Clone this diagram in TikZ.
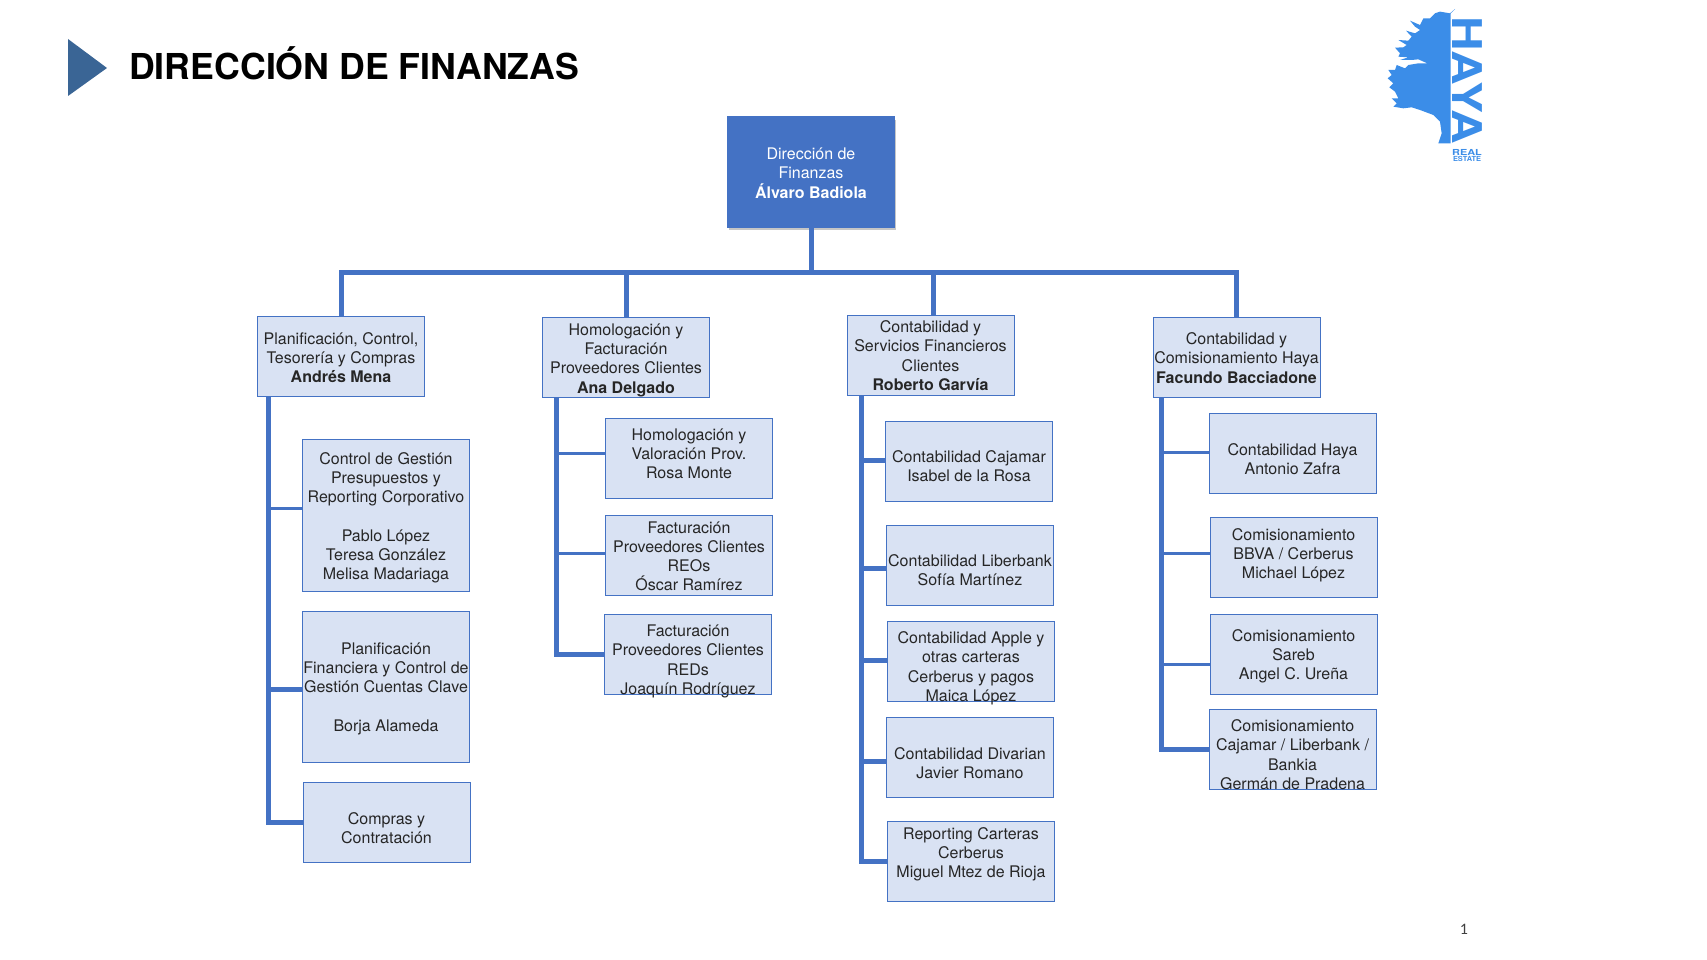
\documentclass[tikz,border=0pt]{standalone}
\usepackage{fontspec}
\setmainfont{TeX Gyre Heros}
\newfontfamily\pagefont{Carlito}
\usetikzlibrary{shadows}
\definecolor{boxfill}{HTML}{D9E2F3}
\definecolor{boxline}{HTML}{4472C4}
\definecolor{logoblue}{HTML}{3B8DE8}
\definecolor{arrowblue}{HTML}{3A6595}
\newcommand{\dn}[1]{\rule{0pt}{\dimexpr 12pt+#1pt*2\relax}}
\tikzset{
    orgbox/.style={draw=boxline, fill=boxfill, line width=1pt, inner sep=0pt, align=center,
        minimum width=167pt, minimum height=80pt, text=black!85,
        font=\fontsize{16}{19.2}\selectfont},
    fixh/.style={text height=#1pt, text depth=\dimexpr 79pt-#1pt\relax},
    topbox/.style={orgbox, fill=boxline, text=white, minimum height=110pt,
        drop shadow={opacity=0.45, shadow xshift=1.5pt, shadow yshift=-3pt}},
    trunk/.style={draw=boxline, line width=5pt},
    twig/.style={draw=boxline, line width=3pt}
}
\begin{document}
\begin{tikzpicture}[x=1pt, y=-1pt]
\useasboundingbox (0,0) rectangle (1707,960);

% Title
\fill[arrowblue] (68,39) -- (107,68) -- (68,96) -- cycle;
\node[anchor=west, inner sep=0pt, font=\fontsize{35.7}{40}\selectfont\bfseries] (title) at (129,63.5) {DIRECCIÓN DE FINANZAS};

% Logo
\begin{scope}[shift={(1340,0)}, x=0.3333pt, y=-0.3333pt]
    \fill[logoblue] (345,27) -- (330,40) -- (300,35) -- (285,40) -- (270,55) -- (250,55) -- (240,75)
        -- (210,62) -- (225,80) -- (240,90) -- (225,100) -- (198,92) -- (215,110) -- (205,122)
        -- (175,120) -- (200,135) -- (190,142) -- (165,143) -- (180,160) -- (175,170) -- (205,172)
        -- (180,180) -- (215,180) -- (235,178) -- (262,190) -- (235,190) -- (205,195) -- (195,205)
        -- (170,195) -- (165,210) -- (145,210) -- (155,225) -- (143,235) -- (160,250) -- (148,262)
        -- (165,275) -- (175,295) -- (155,295) -- (170,310) -- (160,320) -- (190,325) -- (215,322)
        -- (240,330) -- (280,345) -- (300,365) -- (305,400) -- (295,430) -- (332,430) -- (332,40) -- cycle;
\end{scope}
\node[rotate=-90, inner sep=0pt, text=logoblue, xscale=1.17, font=\fontsize{41}{41}\selectfont\bfseries] (haya) at (1467,80) {HAYA};
\node[inner sep=0pt, text=logoblue, xscale=1.32, font=\fontsize{8.3}{8}\selectfont\bfseries] (real) at (1467,152) {REAL};
\node[inner sep=0pt, text=logoblue, xscale=1.06, font=\fontsize{7}{7}\selectfont\bfseries] (estate) at (1467,158.5) {ESTATE};

% Boxes
\node[topbox] (dir) at (811,172) {\dn{1}Dirección de\\Finanzas\\\textbf{Álvaro Badiola}};

\node[orgbox] (plan) at (341,356) {\dn{1.5}Planificación, Control,\\Tesorería y Compras\\\textbf{Andrés Mena}};
\node[orgbox] (homo) at (626,357) {\dn{3}Homologación y\\Facturación\\Proveedores Clientes\\\textbf{Ana Delgado}};
\node[orgbox] (cont) at (930.5,355) {\dn{0.5}Contabilidad y\\Servicios Financieros\\Clientes\\\textbf{Roberto Garvía}};
\node[orgbox] (comi) at (1236.5,357.5) {\dn{0.5}Contabilidad y\\Comisionamiento Haya\\\textbf{Facundo Bacciadone}};

\node[orgbox, minimum height=152pt] (gest) at (386,515) {\dn{2.7}Control de Gestión\\Presupuestos y\\Reporting Corporativo\\[19.2pt]Pablo López\\Teresa González\\Melisa Madariaga};
\node[orgbox, minimum height=151pt] (fina) at (386,686.5) {\dn{2}Planificación\\Financiera y Control de\\Gestión Cuentas Clave\\[19.2pt]Borja Alameda};
\node[orgbox] (comp) at (386.5,822.5) {\dn{6}Compras y\\Contratación};

\node[orgbox] (valo) at (689,458) {\dn{5}Homologación y\\Valoración Prov.\\Rosa Monte\\~};
\node[orgbox] (reos) at (689,555) {\dn{1}Facturación\\Proveedores Clientes\\REOs\\Óscar Ramírez};
\node[orgbox, fixh=79.7] (reds) at (688,654.5) {Facturación\\Proveedores Clientes\\REDs\\Joaquín Rodríguez};

\node[orgbox] (caja) at (969,461) {\dn{5.5}Contabilidad Cajamar\\Isabel de la Rosa};
\node[orgbox] (libe) at (970,565) {\dn{5}Contabilidad Liberbank\\Sofía Martínez};
\node[orgbox, fixh=79.7] (appl) at (971,661.5) {Contabilidad Apple y\\otras carteras\\Cerberus y pagos\\Maica López};
\node[orgbox] (diva) at (970,757.5) {\dn{5.5}Contabilidad Divarian\\Javier Romano};
\node[orgbox] (repo) at (971,861) {\dn{1}Reporting Carteras\\Cerberus\\Miguel Mtez de Rioja\\~};

\node[orgbox] (haya1) at (1292.5,453.5) {\dn{6}Contabilidad Haya\\Antonio Zafra};
\node[orgbox, fixh=61] (bbva) at (1293.5,557) {Comisionamiento\\BBVA / Cerberus\\Michael López};
\node[orgbox] (sare) at (1293.5,654.5) {\dn{2}Comisionamiento\\Sareb\\Angel C. Ureña};
\node[orgbox, fixh=79.7] (germ) at (1292.5,749.5) {Comisionamiento\\Cajamar / Liberbank /\\Bankia\\Germán de Pradena};

% Page number
\node[inner sep=0pt, text=black!75, font=\fontsize{16}{16}\pagefont] (page) at (1464,929) {1};

% Top bus
\coordinate (bus) at (811,272);
\draw[trunk] (dir.south) -- (bus);
\draw[trunk] (plan.north) |- (bus);
\draw[trunk] (comi.north) |- (bus);
\draw[trunk] (homo.north) -- (homo.north |- bus);
\draw[trunk] ([xshift=3pt]cont.north) -- ([xshift=3pt]cont.north |- bus);

% Branches
\coordinate (plantop) at (268,396);
\coordinate (homotop) at (556,397);
\coordinate (conttop) at (861,395);
\coordinate (comitop) at (1161,397);
\draw[trunk] (plantop) |- (comp.west);
\draw[trunk] (homotop) |- (reds.west);
\draw[trunk] (conttop) |- (repo.west);
\draw[trunk] (comitop) |- (germ.west);
\foreach \b/\s/\t/\w in {gest/7/plantop/twig, fina/-2.5/plantop/trunk,
    valo/5/homotop/twig, reos/2/homotop/twig,
    caja/1/conttop/trunk, libe/-3/conttop/trunk, appl/1.5/conttop/trunk, diva/-3.5/conttop/trunk,
    haya1/1.5/comitop/twig, bbva/4/comitop/twig, sare/-9.5/comitop/twig} {
    \draw[\w] ([yshift=\s pt]\b.west) -- ([yshift=\s pt]\b.west -| \t);
}
\end{tikzpicture}
\end{document}
